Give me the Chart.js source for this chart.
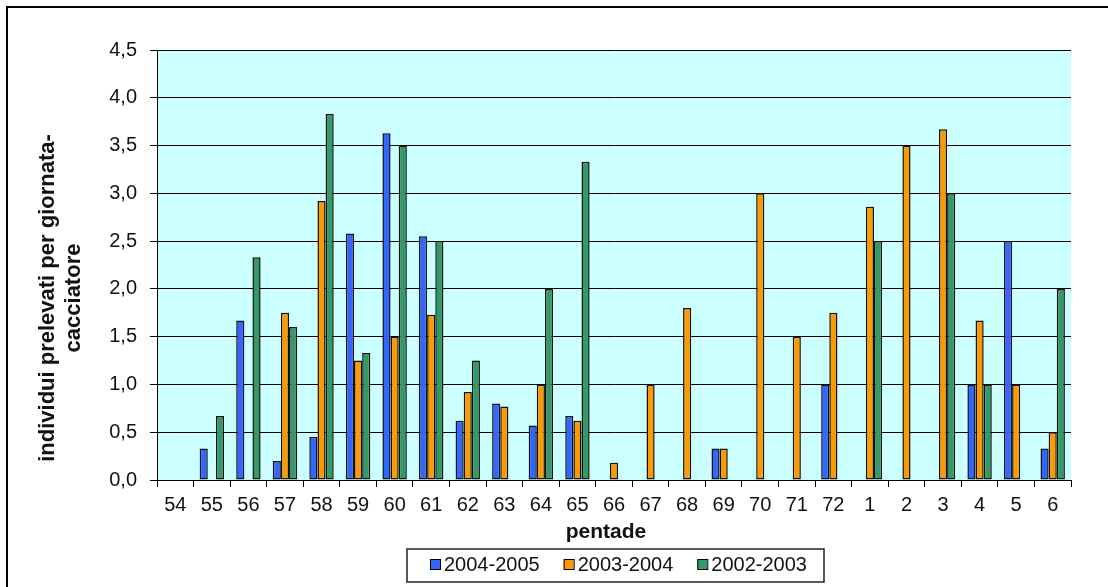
<!DOCTYPE html>
<html>
<head>
<meta charset="utf-8">
<script src="https://cdn.jsdelivr.net/npm/chart.js@4.4.1/dist/chart.umd.min.js"></script>
<style>
  html, body { margin: 0; padding: 0; background: #fff; }
  #wrap { position: relative; width: 1108px; height: 587px; }
  canvas { display: block; }
</style>
</head>
<body>
<div id="wrap"><canvas id="c" width="1108" height="587"></canvas></div>
<script>
// ---- data ----
const categories = ["54","55","56","57","58","59","60","61","62","63","64","65","66","67","68","69","70","71","72","1","2","3","4","5","6"];
const seriesNames = ["2004-2005", "2003-2004", "2002-2003"];
const values2004_2005 = [null, 0.33, 1.67, 0.2, 0.45, 2.58, 3.63, 2.55, 0.62, 0.8, 0.57, 0.67, null, null, null, 0.33, null, null, 1.0, null, null, null, 1.0, 2.5, 0.33];
const values2003_2004 = [null, null, null, 1.75, 2.92, 1.25, 1.5, 1.73, 0.92, 0.77, 1.0, 0.62, 0.18, 1.0, 1.8, 0.33, 3.0, 1.5, 1.75, 2.86, 3.5, 3.67, 1.67, 1.0, 0.5];
const values2002_2003 = [null, 0.67, 2.33, 1.6, 3.83, 1.33, 3.5, 2.5, 1.25, null, 2.0, 3.33, null, null, null, null, null, null, null, 2.5, null, 3.0, 1.0, null, 2.0];
const yTicksMin = 0, yTicksMax = 4.5, yStep = 0.5;
const xTitle = "pentade";
const yTitleLines = ["individui prelevati per giornata-", "cacciatore"];

const colors = ["#3366FF", "#FF9900", "#339966"];
const textColor = "#111";

const decorPlugin = {
  id: 'decor',
  beforeDraw(chart) {
    const {ctx, chartArea: a} = chart;
    ctx.save();
    ctx.fillStyle = "#CCFFFF";
    ctx.fillRect(a.left, a.top, a.right - a.left, a.bottom - a.top);
    ctx.restore();
  },
  afterDraw(chart) {
    const ctx = chart.ctx;
    ctx.save();
    // outer frame (top and left visible)
    ctx.strokeStyle = "#000";
    ctx.lineWidth = 2;
    ctx.beginPath();
    ctx.moveTo(7, 587);
    ctx.lineTo(7, 7);
    ctx.lineTo(1108, 7);
    ctx.stroke();

    // y title
    ctx.fillStyle = textColor;
    ctx.font = "bold 22px 'Liberation Sans', Arial, sans-serif";
    ctx.textAlign = "center";
    ctx.textBaseline = "middle";
    ctx.translate(61, 298);
    ctx.rotate(-Math.PI / 2);
    ctx.fillText(yTitleLines[0], 0, -13);
    ctx.fillText(yTitleLines[1], 0, 13);
    ctx.setTransform(1, 0, 0, 1, 0, 0);

    // x title
    ctx.font = "bold 21px 'Liberation Sans', Arial, sans-serif";
    ctx.fillText(xTitle, 606, 532);

    // legend box
    ctx.strokeStyle = "#222";
    ctx.lineWidth = 1.5;
    ctx.strokeRect(407, 549, 417, 33);
    ctx.font = "20px 'Liberation Sans', Arial, sans-serif";
    ctx.textAlign = "left";
    let x = 430;
    chart.data.datasets.forEach((ds) => {
      ctx.fillStyle = ds.backgroundColor;
      ctx.fillRect(x, 559.5, 10, 10);
      ctx.strokeStyle = "#000";
      ctx.lineWidth = 1;
      ctx.strokeRect(x + 0.5, 559.5, 10, 10);
      ctx.fillStyle = textColor;
      ctx.fillText(ds.label, x + 14, 565);
      x += 14 + ctx.measureText(ds.label).width + 24;
    });
    ctx.restore();
  }
};

const datasets = [values2004_2005, values2003_2004, values2002_2003].map((vals, i) => ({
  label: seriesNames[i],
  data: vals,
  backgroundColor: colors[i],
  borderColor: "#111",
  borderWidth: 1.5,
  borderSkipped: false,
  inflateAmount: 0,
  barPercentage: 1.0,
  categoryPercentage: 0.667
}));

new Chart(document.getElementById('c'), {
  type: 'bar',
  data: { labels: categories, datasets },
  options: {
    responsive: false,
    animation: false,
    devicePixelRatio: 1,
    layout: { padding: { top: 50, right: 37, left: 0, bottom: 0 } },
    plugins: { legend: { display: false }, tooltip: { enabled: false } },
    scales: {
      x: {
        afterFit(scale) { scale.height = 107; },
        grid: { drawOnChartArea: false, drawTicks: true, tickLength: 7, color: "#000", offset: true },
        border: { color: "#000", width: 1 },
        ticks: { color: textColor, font: { family: "'Liberation Sans', Arial, sans-serif", size: 20 }, padding: 6, maxRotation: 0, autoSkip: false }
      },
      y: {
        min: yTicksMin, max: yTicksMax,
        afterFit(scale) { scale.width = 157; },
        grid: { color: "#000", lineWidth: 1, tickLength: 7 },
        border: { color: "#000", width: 1 },
        ticks: {
          stepSize: yStep,
          color: textColor,
          padding: 13,
          font: { family: "'Liberation Sans', Arial, sans-serif", size: 20 },
          callback: (v) => Number(v).toFixed(1).replace('.', ',')
        }
      }
    }
  },
  plugins: [decorPlugin]
});
</script>
</body>
</html>
